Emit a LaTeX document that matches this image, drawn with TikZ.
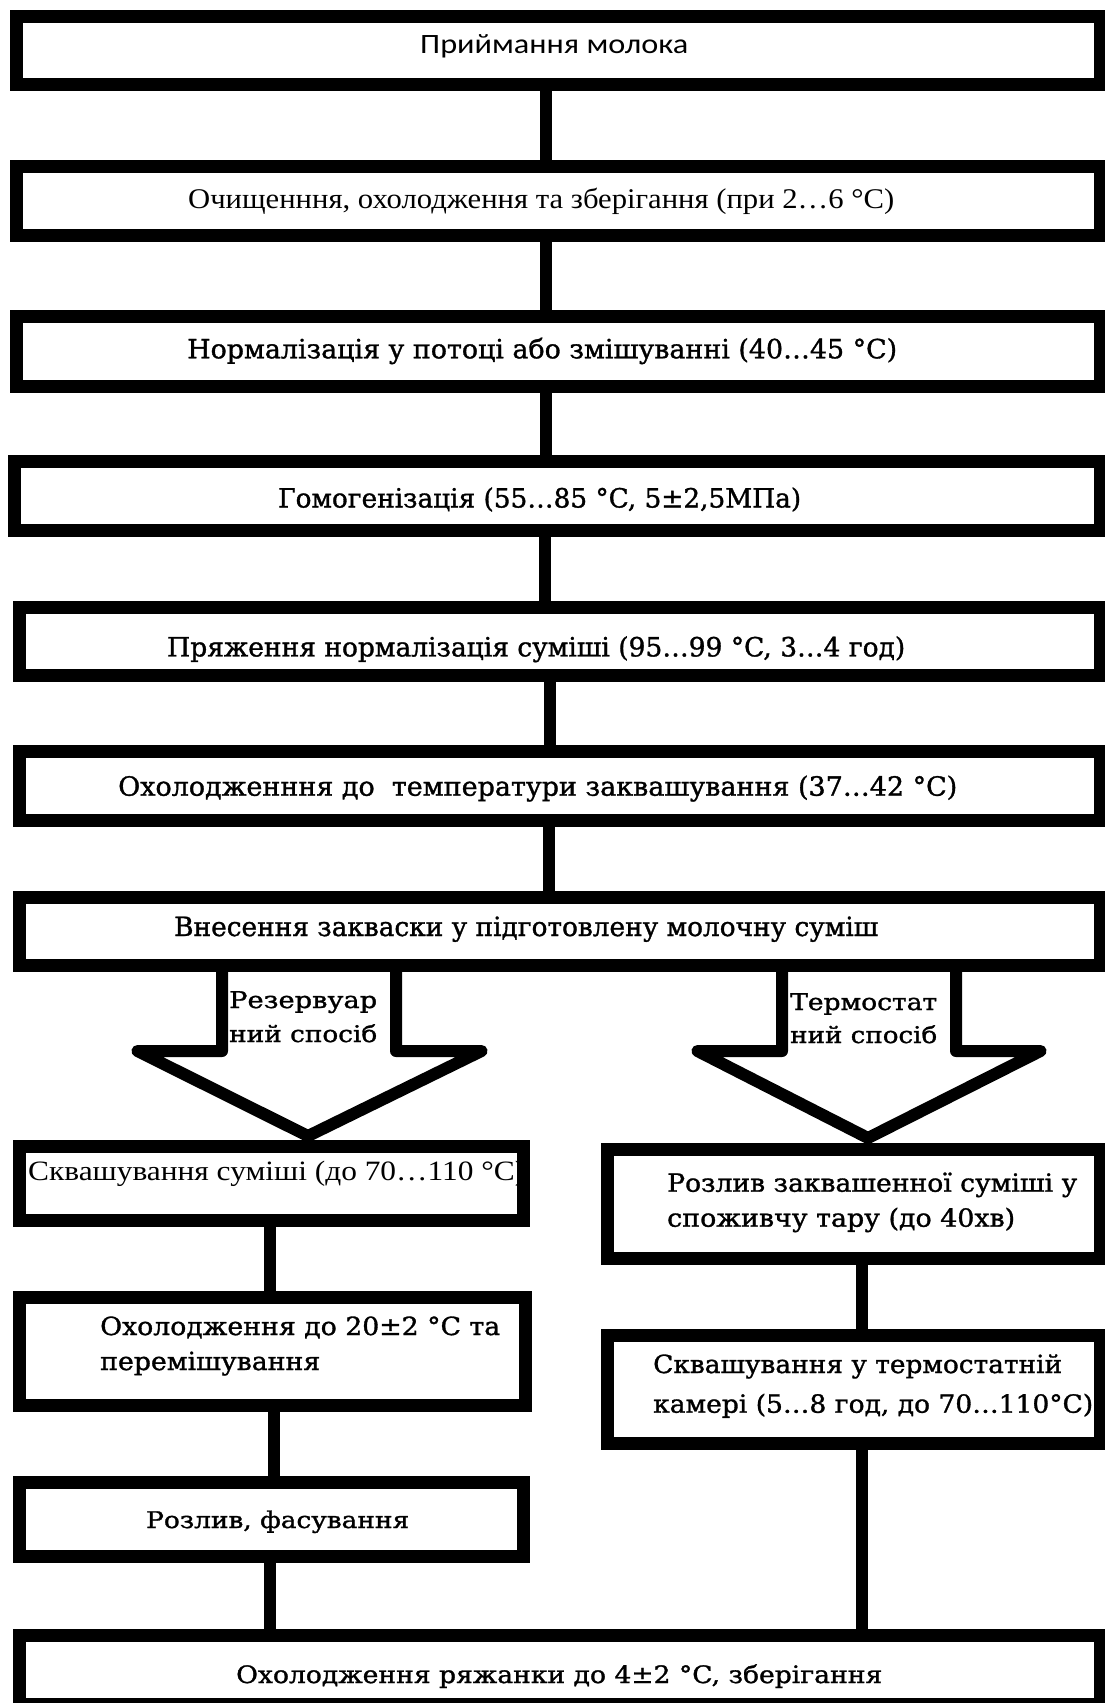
\documentclass[tikz,border=0pt]{standalone}
\usepackage{fontspec}
\usepackage{graphicx}
\setmainfont{Liberation Serif}
\newfontfamily\slabf[FakeBold=1.2]{DejaVu Serif}
\newfontfamily\calibf{Carlito}
\newcommand{\fitw}[2]{\resizebox{#1}{\height}{#2}}
\newcommand{\fs}[1]{\fontsize{#1}{#1}\selectfont}
\tikzset{
  box/.style={draw=black, line width=13pt, rectangle, inner sep=0pt, fill=white},
  conn/.style={line width=12pt},
  blockarrow/.style={line width=12pt, line join=round},
  lbl/.style={anchor=base west, inner sep=0pt, text=black},
}
\begin{document}
\begin{tikzpicture}[x=1pt, y=-1pt]
\useasboundingbox (0,0) rectangle (1105,1703);
\fill[white] (0,0) rectangle (1105,1703);

% main column boxes
\node[box, minimum width=1083.5pt, minimum height=68.5pt] (b1) at (558.25,50.25) {};
\node[box, minimum width=1083.5pt, minimum height=69pt] (b2) at (558.25,200.5) {};
\node[box, minimum width=1083.5pt, minimum height=69.7pt] (b3) at (558.25,351.15) {};
\node[box, minimum width=1085.5pt, minimum height=68.4pt] (b4) at (557.25,495.8) {};
\node[box, minimum width=1080.5pt, minimum height=68pt] (b5) at (559.75,641) {};
\node[box, minimum width=1080.5pt, minimum height=68.4pt] (b6) at (559.75,785.8) {};
\node[box, minimum width=1080.5pt, minimum height=68pt] (b7) at (559.75,931) {};
% left column
\node[box, minimum width=504pt, minimum height=73.5pt] (l1) at (271.5,1183.25) {};
\node[box, minimum width=506pt, minimum height=108pt] (l2) at (272.5,1351) {};
\node[box, minimum width=504pt, minimum height=73.5pt] (l3) at (271.5,1519.25) {};
% right column
\node[box, minimum width=493pt, minimum height=109.5pt] (r1) at (853.5,1203.75) {};
\node[box, minimum width=493pt, minimum height=108pt] (r2) at (853.5,1389.5) {};
% final
\node[box, minimum width=1080.5pt, minimum height=69pt] (bf) at (559.75,1670) {};

% connectors
\draw[conn] (546,0 |- b1.south) -- (546,0 |- b2.north);
\draw[conn] (546,0 |- b2.south) -- (546,0 |- b3.north);
\draw[conn] (546,0 |- b3.south) -- (546,0 |- b4.north);
\draw[conn] (545,0 |- b4.south) -- (545,0 |- b5.north);
\draw[conn] (550,0 |- b5.south) -- (550,0 |- b6.north);
\draw[conn] (549,0 |- b6.south) -- (549,0 |- b7.north);
\draw[conn] (270,0 |- l1.south) -- (270,0 |- l2.north);
\draw[conn] (274,0 |- l2.south) -- (274,0 |- l3.north);
\draw[conn] (270,0 |- l3.south) -- (270,0 |- bf.north);
\draw[conn] (862,0 |- r1.south) -- (862,0 |- r2.north);
\draw[conn] (862,0 |- r2.south) -- (862,0 |- bf.north);

% block arrows
\draw[blockarrow] (222,0 |- b7.south) -- (222,1051) -- (137.5,1051) -- (308,1136)
  -- (481.5,1051) -- (396,1051) -- (396,0 |- b7.south);
\draw[blockarrow] (782,0 |- b7.south) -- (782,1051) -- (697.5,1051) -- (868,1138)
  -- (1040.5,1051) -- (956,1051) -- (956,0 |- b7.south);

% texts
\node[lbl] (t1) at (420,53.3) {\calibf\fs{28}\fitw{268pt}{Приймання молока}};
\node[lbl] (t2) at (188,208.5) {\fs{28.5}\fitw{706pt}{Очищенння, охолодження та зберігання (при 2…6 °C)}};
\node[lbl] (t3) at (187,358.3) {\slabf\fs{26.5}\fitw{710pt}{Нормалізація у потоці або змішуванні (40…45 °C)}};
\node[lbl] (t4) at (278,507.5) {\slabf\fs{26.5}\fitw{523pt}{Гомогенізація (55…85 °C, 5±2,5МПа)}};
\node[lbl] (t5) at (167,656.4) {\slabf\fs{26.5}\fitw{738pt}{Пряження нормалізація суміші (95…99 °C, 3…4 год)}};
\node[lbl] (t6) at (118,795.7) {\slabf\fs{26.5}\fitw{839pt}{Охолодженння до\ \ температури заквашування (37…42 °C)}};
\node[lbl] (t7) at (174,936) {\slabf\fs{26.5}\fitw{704pt}{Внесення закваски у підготовлену молочну суміш}};

\node[lbl] (a1a) at (229,1008) {\slabf\fs{23}\fitw{148pt}{Резервуар}};
\node[lbl] (a1b) at (229,1042) {\slabf\fs{23}\fitw{148pt}{ний спосіб}};
\node[lbl] (a2a) at (790,1010) {\slabf\fs{23}\fitw{147pt}{Термостат}};
\node[lbl] (a2b) at (790,1043) {\slabf\fs{23}\fitw{147pt}{ний спосіб}};

\node[lbl] (tl1) at (28,1180.7) {\fs{28}\fitw{497pt}{Сквашування суміші (до 70…110 °C)}};
\node[lbl] (tl2a) at (100,1335) {\slabf\fs{25}\fitw{400pt}{Охолодження до 20±2 °C та}};
\node[lbl] (tl2b) at (100,1370) {\slabf\fs{25}\fitw{220pt}{перемішування}};
\node[lbl] (tl3) at (146,1528) {\slabf\fs{23}\fitw{263pt}{Розлив, фасування}};

\node[lbl] (tr1a) at (667,1191.7) {\slabf\fs{25}\fitw{410pt}{Розлив заквашенної суміші у}};
\node[lbl] (tr1b) at (667,1226.7) {\slabf\fs{25}\fitw{348pt}{споживчу тару (до 40хв)}};
\node[lbl] (tr2a) at (653,1373) {\slabf\fs{25}\fitw{409pt}{Сквашування у термостатній}};
\node[lbl] (tr2b) at (653,1412.7) {\slabf\fs{25}\fitw{440pt}{камері (5…8 год, до 70…110°C)}};

\node[lbl] (tf) at (236,1683) {\slabf\fs{24}\fitw{646pt}{Охолодження ряжанки до 4±2 °C, зберігання}};
\end{tikzpicture}
\end{document}
